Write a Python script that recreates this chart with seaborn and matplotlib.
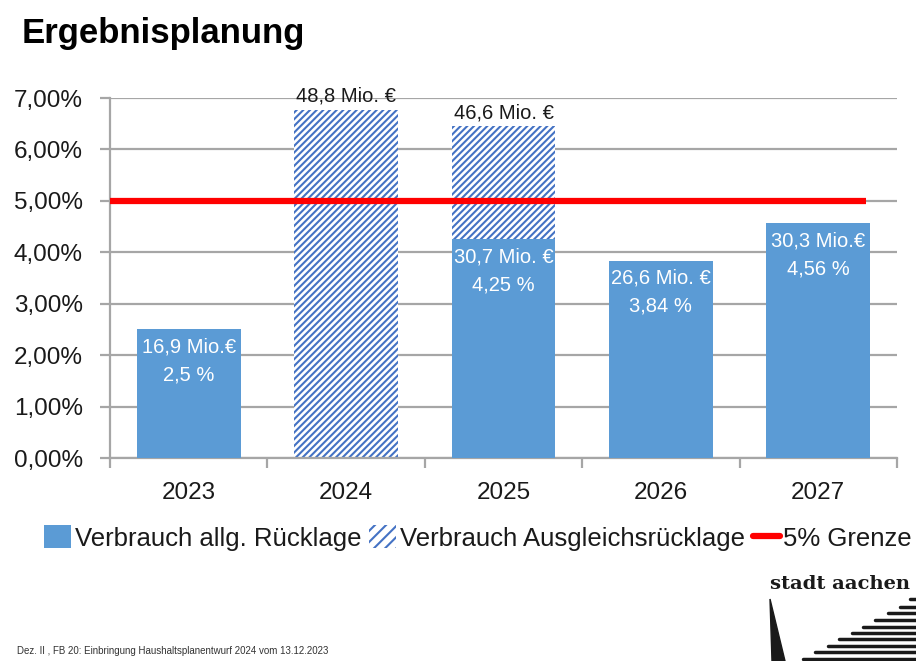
import matplotlib
matplotlib.use("Agg")
import matplotlib.pyplot as plt
from matplotlib.patches import Patch, Polygon
from matplotlib.lines import Line2D
import seaborn as sns
import pandas as pd

# ---- data ----
years = ["2023", "2024", "2025", "2026", "2027"]
allg_ruecklage = [2.50, 0.00, 4.25, 3.84, 4.56]          # % solid bars
ausgleich_ruecklage = [0.00, 6.77, 2.20, 0.00, 0.00]     # % hatched portion
inside_labels = ["16,9 Mio.€\n2,5 %", "", "30,7 Mio. €\n4,25 %", "26,6 Mio. €\n3,84 %", "30,3 Mio.€\n4,56 %"]
top_labels = ["", "48,8 Mio. €", "46,6 Mio. €", "", ""]
grenze = 5.0
yticks = [0, 1, 2, 3, 4, 5, 6, 7]
ytick_labels = ["0,00%", "1,00%", "2,00%", "3,00%", "4,00%", "5,00%", "6,00%", "7,00%"]

totals = [a + b for a, b in zip(allg_ruecklage, ausgleich_ruecklage)]
df = pd.DataFrame({"Jahr": years, "allg": allg_ruecklage, "total": totals})

sns.set_theme(style="white")
plt.rcParams["font.family"] = ["Liberation Sans", "DejaVu Sans"]
plt.rcParams["hatch.linewidth"] = 1.5

BLUE = "#5B9BD5"
HATCH = "#4472C4"
GRID = "#A6A6A6"
HP = "/////"

fig = plt.figure(figsize=(9.16, 6.61), dpi=100)
ax = fig.add_axes([110 / 916, 1 - 458 / 661, (897 - 110) / 916, (458 - 98) / 661])

# hatched (total) bars first, then solid bars on top
sns.barplot(data=df, x="Jahr", y="total", order=years, ax=ax, color="white",
            width=0.66, hatch=HP, edgecolor=HATCH, linewidth=0, zorder=2)
n_hatch = len(ax.patches)
for p in ax.patches:
    p.set_hatch(HP)
    p.set_edgecolor(HATCH)
    p.set_facecolor("white")
    p.set_linewidth(0)
sns.barplot(data=df, x="Jahr", y="allg", order=years, ax=ax, color=BLUE,
            width=0.66, saturation=1, linewidth=0, zorder=3)
solid_patches = ax.patches[n_hatch:]
for p in solid_patches:
    p.set_facecolor(BLUE)

# 5% line
ax.hlines(grenze, -0.5, 4.3, color="#FF0000", linewidth=4.5, zorder=5)

# labels
for i, p in enumerate(solid_patches):
    xc = p.get_x() + p.get_width() / 2
    if inside_labels[i]:
        ax.annotate(inside_labels[i], (xc, allg_ruecklage[i]), xytext=(0, -6),
                    textcoords="offset points", ha="center", va="top",
                    color="white", fontsize=14.5, linespacing=1.55, zorder=6)
    if top_labels[i]:
        ax.annotate(top_labels[i], (xc, totals[i]), xytext=(0, 3),
                    textcoords="offset points", ha="center", va="bottom",
                    color="#1a1a1a", fontsize=14.5, zorder=6)

ax.set_xlim(-0.5, 4.5)
ax.set_ylim(0, 7)
ax.set_yticks(yticks)
ax.set_yticklabels(ytick_labels)
ax.set_xlabel("")
ax.set_ylabel("")
ax.yaxis.grid(True, color=GRID, linewidth=1.6, zorder=0)
ax.set_axisbelow(True)
for s in ["top", "right"]:
    ax.spines[s].set_visible(False)
for s in ["left", "bottom"]:
    ax.spines[s].set_color(GRID)
    ax.spines[s].set_linewidth(1.6)
ax.tick_params(axis="y", which="major", left=True, length=7.5, width=1.6, color=GRID,
               pad=12, labelsize=17.5, labelcolor="#1a1a1a")
ax.tick_params(axis="x", which="major", bottom=False, length=0, pad=17,
               labelsize=17.5, labelcolor="#1a1a1a")
ax.set_xticks([-0.5, 0.5, 1.5, 2.5, 3.5, 4.5], minor=True)
ax.tick_params(axis="x", which="minor", bottom=True, length=7.5, width=1.6, color=GRID)

# legend
handles = [
    Patch(facecolor=BLUE, edgecolor=BLUE, linewidth=0),
    Patch(facecolor="white", edgecolor=HATCH, hatch="///", linewidth=0),
    Line2D([0], [0], color="#FF0000", linewidth=4.5),
]
labels = ["Verbrauch allg. Rücklage", "Verbrauch Ausgleichsrücklage", "5% Grenze"]
fig.legend(handles, labels, loc="center", bbox_to_anchor=(478 / 916, 1 - 538 / 661),
           ncol=3, frameon=False, fontsize=18.5, handlelength=1.05, handleheight=1.0,
           handletextpad=0.15, columnspacing=0.3, borderaxespad=0, borderpad=0,
           labelcolor="#1a1a1a")

# title
fig.text(22 / 916, 1 - 43 / 661, "Ergebnisplanung", fontsize=25, fontweight="bold",
         ha="left", va="baseline", color="black")

# footer
fig.text(17 / 916, 1 - 651 / 661,
         "Dez. II , FB 20: Einbringung Haushaltsplanentwurf 2024 vom 13.12.2023",
         fontsize=7.0, ha="left", va="center", color="#333333")

# logo
fig.text(770 / 916, 1 - 584 / 661, "stadt aachen", fontsize=14, fontweight="bold",
         ha="left", va="center", color="#1a1a1a", family=["DejaVu Serif"])
W, H = 916, 661
fig.add_artist(Polygon([(770 / W, 1 - 599 / H), (772 / W, 0), (785 / W, 0)],
                       closed=True, transform=fig.transFigure, color="#1a1a1a"))
stripes = [(599, 910), (606.7, 900), (612.7, 888), (620, 875), (626.7, 863),
           (632.7, 852), (639, 839), (646, 828), (652, 815), (658.7, 803)]
for yy, xs in stripes:
    fig.add_artist(Line2D([xs / W, 1], [1 - yy / H, 1 - yy / H], transform=fig.transFigure,
                          color="#1a1a1a", linewidth=2.5))

fig.savefig("out.png", dpi=100)
